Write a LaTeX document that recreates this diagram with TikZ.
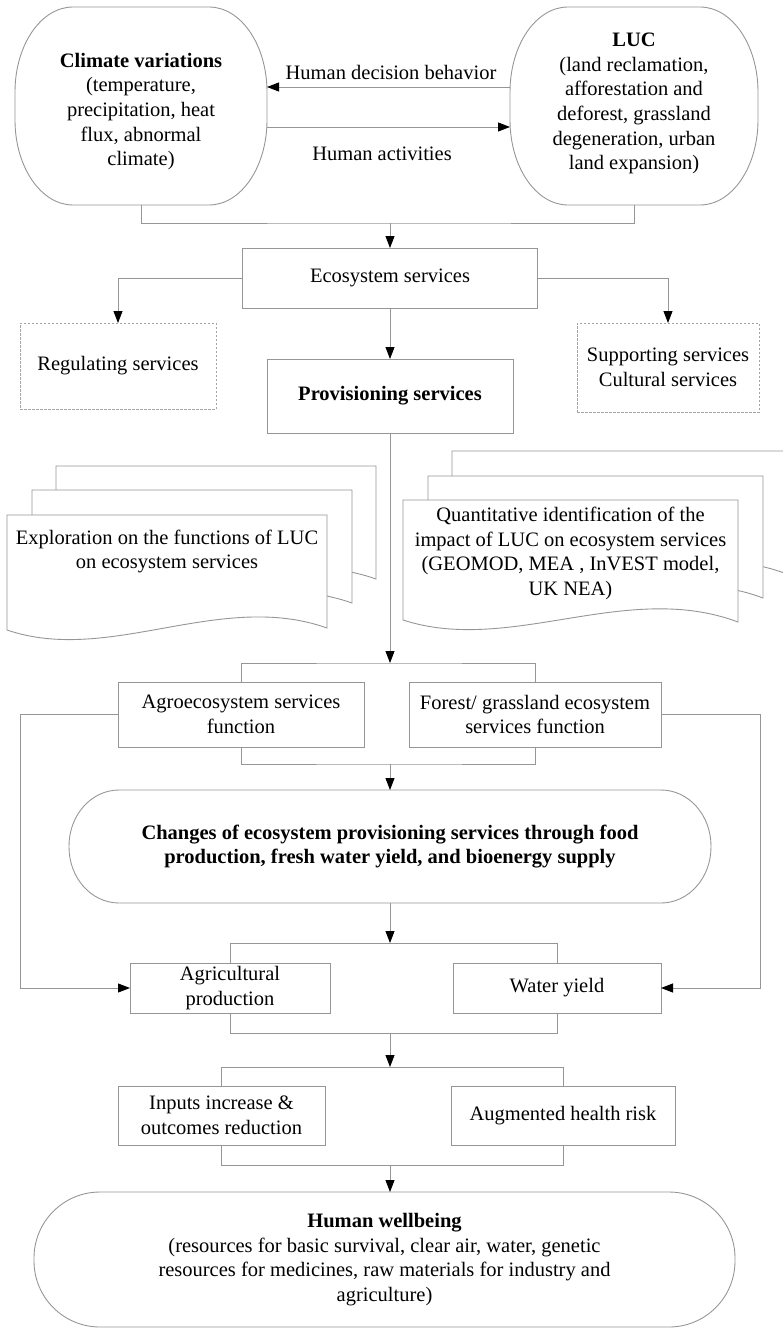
\documentclass[tikz,border=0pt]{standalone}
\usepackage{fontspec}
\setmainfont{Liberation Serif}
\usetikzlibrary{arrows.meta}
\definecolor{linec}{RGB}{150,150,150}
\definecolor{dashc}{RGB}{165,165,165}
\tikzset{
  every node/.style={font=\fontsize{20.5}{24.7}\selectfont, align=center, inner sep=0pt, outer sep=0pt},
  ln/.style={draw=linec, line width=0.9pt},
  arr/.style={ln, -{Triangle[length=12pt,width=9pt,color=black]}},
  boxn/.style={draw=linec, line width=0.9pt, fill=white},
  dboxn/.style={draw=dashc, line width=0.8pt, dash pattern=on 2.5pt off 1.5pt},
  plain/.style={draw=none},
}
\newcommand\ovalshape[3]{%
  \draw[ln] ([xshift=#2]#1.north west) -- ([xshift=-#2]#1.north east)
    arc[start angle=90,end angle=0,x radius=#2,y radius=#3]
    -- ([yshift=#3]#1.south east)
    arc[start angle=0,end angle=-90,x radius=#2,y radius=#3]
    -- ([xshift=#2]#1.south west)
    arc[start angle=-90,end angle=-180,x radius=#2,y radius=#3]
    -- ([yshift=-#3]#1.north west)
    arc[start angle=180,end angle=90,x radius=#2,y radius=#3]
    -- cycle;}
% x0, x1, ytop, yLeftBottom, yRightBottom (pixel values, downwards)
\newcommand\docsheet[5]{%
  \pgfmathsetmacro\dsA{#1+0.32*(#2-#1)}%
  \pgfmathsetmacro\dsB{#1+0.666*(#2-#1)}%
  \pgfmathsetmacro\dsYa{-(#4)-35}%
  \pgfmathsetmacro\dsYb{-(#4)+40}%
  \draw[ln, fill=white] (#1,-#4) -- (#1,-#3) -- (#2,-#3) -- (#2,-#5)
    .. controls (\dsB,\dsYb) and (\dsA,\dsYa) .. (#1,-#4) -- cycle;}
\begin{document}
\begin{tikzpicture}[x=1pt,y=1pt]
\useasboundingbox (0,0) rectangle (782,-1330);

% top ovals
\node[plain, minimum width=252pt, minimum height=198pt] (clim) at (141,-106) {};
\ovalshape{clim}{58pt}{85pt}
\node (climtext) at (141,-111.5) {\textbf{Climate variations}\\(temperature,\\precipitation, heat\\flux, abnormal\\climate)};

\node[plain, minimum width=248pt, minimum height=198pt] (luc) at (634,-106) {};
\ovalshape{luc}{58pt}{85pt}
\node (luctext) at (634,-103.5) {\textbf{LUC}\\(land reclamation,\\afforestation and\\deforest, grassland\\degeneration, urban\\land expansion)};

\draw[arr] ([yshift=19pt]luc.west) -- ([yshift=19pt]clim.east);
\draw[arr] ([yshift=-21pt]clim.east) -- ([yshift=-21pt]luc.west);
\node (lab1) at (391,-72) {Human decision behavior};
\node (lab2) at (382,-154) {Human activities};

\coordinate (j0) at (390,-223);
\draw[ln] (clim.south) |- (j0) -| (luc.south);

% ecosystem services
\node[boxn, minimum width=295pt, minimum height=60pt] (eco) at (390,-278) {Ecosystem services};
\draw[arr] (j0) -- (eco.north);

\node[dboxn, minimum width=196pt, minimum height=86pt] (reg) at (118,-366) {Regulating services};
\node[dboxn, minimum width=182pt, minimum height=89pt] (sup) at (668,-367.5) {Supporting services\\Cultural services};
\node[boxn, minimum width=246pt, minimum height=74pt] (prov) at (390,-396) {\textbf{Provisioning services}};

\draw[arr] (eco.west) -| (reg.north);
\draw[arr] (eco.east) -| (sup.north);
\draw[arr] (eco.south) -- (prov.north);

% document stacks
\docsheet{56}{376}{466}{581}{579}
\docsheet{32}{352}{490}{605}{603}
\docsheet{7}{327}{515}{630}{628}
\node (doc1) at (167,-551.5) {Exploration on the functions of LUC\\on ecosystem services};

\docsheet{452}{787}{451}{572}{574}
\docsheet{428}{763}{476}{596}{598}
\docsheet{403}{738}{500}{620}{622}
\node (doc2) at (570.5,-553.5) {Quantitative identification of the\\impact of LUC on ecosystem services\\(GEOMOD, MEA , InVEST model,\\UK NEA)};

% function boxes
\coordinate (j1) at (390,-663);
\draw[arr] (prov.south) -- (j1);
\node[boxn, minimum width=246pt, minimum height=65pt] (agro) at (241,-714.5) {Agroecosystem services\\function};
\node[boxn, minimum width=252pt, minimum height=65pt] (forest) at (535,-714.5) {Forest/ grassland ecosystem\\services function};
\draw[ln] (agro.north) |- (j1) -| (forest.north);
\coordinate (j2) at (390,-764);
\draw[ln] (agro.south) |- (j2) -| (forest.south);

\node[plain, minimum width=642pt, minimum height=113pt] (changes) at (390,-846.5) {\textbf{Changes of ecosystem provisioning services through food}\\\textbf{production, fresh water yield, and bioenergy supply}};
\ovalshape{changes}{50pt}{56pt}
\draw[arr] (j2) -- (changes.north);

% production boxes
\coordinate (j3) at (390,-943);
\draw[arr] (changes.south) -- (j3);
\node[boxn, minimum width=200pt, minimum height=50pt] (agri) at (230,-988) {Agricultural\\production};
\node[boxn, minimum width=208pt, minimum height=50pt] (water) at (557,-988) {Water yield};
\draw[ln] (agri.north) |- (j3) -| (water.north);
\coordinate (j4) at (390,-1033);
\draw[ln] (agri.south) |- (j4) -| (water.south);

\coordinate (lc) at (20,-714.5);
\coordinate (rc) at (760,-714.5);
\draw[arr] (agro.west) -- (lc) |- (agri.west);
\draw[arr] (forest.east) -- (rc) |- (water.east);

% impacts
\coordinate (j5) at (390,-1067);
\draw[arr] (j4) -- (j5);
\node[boxn, minimum width=207pt, minimum height=59pt] (inp) at (221.5,-1115.5) {Inputs increase \&\\outcomes reduction};
\node[boxn, minimum width=224pt, minimum height=59pt] (aug) at (563,-1115.5) {Augmented health risk};
\draw[ln] (inp.north) |- (j5) -| (aug.north);
\coordinate (j6) at (390,-1165);
\draw[ln] (inp.south) |- (j6) -| (aug.south);

% human wellbeing
\node[plain, minimum width=701pt, minimum height=135pt] (hw) at (384.5,-1259.5) {\textbf{Human wellbeing}\\(resources for basic survival, clear air, water, genetic\\resources for medicines, raw materials for industry and\\agriculture)};
\ovalshape{hw}{66pt}{66pt}
\draw[arr] (j6) -- (j6 |- hw.north);
\end{tikzpicture}
\end{document}
